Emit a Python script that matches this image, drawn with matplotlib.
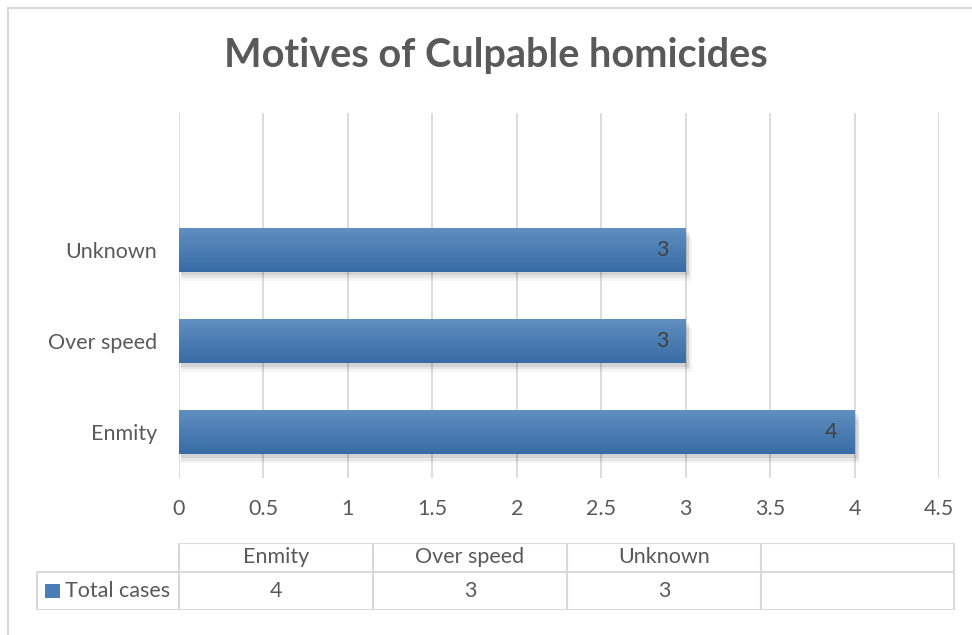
import matplotlib.pyplot as plt
import matplotlib.patches as mpatches
import numpy as np

# data
categories = ['Enmity', 'Over speed', 'Unknown']
total_cases = [4, 3, 3]
series_name = 'Total cases'
x_ticks = [0, 0.5, 1, 1.5, 2, 2.5, 3, 3.5, 4, 4.5]

W, H = 972, 635
TXT = '#595959'
GRID = '#d9d9d9'
FS = 15.5
plt.rcParams['font.family'] = ['Lato', 'DejaVu Sans']

fig = plt.figure(figsize=(W / 100, H / 100), dpi=100)

def px(x0, y0, x1, y1):
    return [x0 / W, 1 - y1 / H, (x1 - x0) / W, (y1 - y0) / H]

# outer chart border (only top and left edges are inside the picture)
fig.add_artist(plt.Line2D([8 / W, 8 / W], [0, 1 - 8 / H], color=GRID, lw=1.5))
fig.add_artist(plt.Line2D([8 / W, 1], [1 - 8 / H, 1 - 8 / H], color=GRID, lw=1.5))

fig.text(496 / W, 1 - 56 / H, 'Motives of Culpable homicides', ha='center', va='center',
         fontsize=28.5, fontweight='bold', color=TXT)

ax = fig.add_axes(px(179, 113, 939, 478))
ypos = np.arange(len(categories))
bh = 0.48
top_c = np.array([0x60, 0x8f, 0xc0]) / 255
bot_c = np.array([0x38, 0x6c, 0xa4]) / 255
grad = np.linspace(0, 1, 64)[:, None, None] * (bot_c - top_c) + top_c

for y, v in zip(ypos, total_cases):
    # soft drop shadow
    for k, a in [(0.10, 0.04), (0.07, 0.06), (0.04, 0.08)]:
        ax.add_patch(mpatches.Rectangle((0.01, y - bh / 2 - k), v + k * 0.25, bh, color='black',
                                        alpha=a, lw=0, zorder=2))
    ax.imshow(grad, extent=[0, v, y - bh / 2, y + bh / 2], aspect='auto', zorder=3,
              interpolation='bilinear')
    ax.text(v - 0.1, y, str(v), ha='right', va='center', fontsize=FS, color='#404040', zorder=4)

ax.set_xlim(0, 4.5)
ax.set_ylim(-0.5, len(categories) + 0.5)
ax.set_xticks(x_ticks)
ax.set_xticklabels([f'{t:g}' for t in x_ticks])
ax.set_yticks(ypos)
ax.set_yticklabels(categories)
ax.tick_params(length=0, labelsize=FS, labelcolor=TXT)
ax.tick_params(axis='y', pad=16)
ax.tick_params(axis='x', pad=15)
ax.xaxis.grid(True, color=GRID, lw=1.3, zorder=0)
ax.set_axisbelow(True)
for s in ax.spines.values():
    s.set_visible(False)

# data table
tab = fig.add_axes(px(0, 543, W, 610))
tab.set_xlim(0, W)
tab.set_ylim(610, 543)
tab.axis('off')
col_edges = [179, 373, 567, 761, 954]
tab.hlines(543, 179, 954, color=GRID, lw=1.5)
tab.hlines(572, 37, 954, color=GRID, lw=1.5)
tab.hlines(610, 37, 954, color=GRID, lw=1.5)
tab.vlines(col_edges, 543, 610, color=GRID, lw=1.5)
tab.vlines(37, 572, 610, color=GRID, lw=1.5)
labels = categories + ['']
values = [str(v) for v in total_cases] + ['']
for i, (lab, val) in enumerate(zip(labels, values)):
    cx = (col_edges[i] + col_edges[i + 1]) / 2
    tab.text(cx, 557, lab, ha='center', va='center', fontsize=FS, color=TXT)
    tab.text(cx, 591, val, ha='center', va='center', fontsize=FS, color=TXT)
tab.add_patch(mpatches.Rectangle((45, 584), 15, 14, color='#4a7db5', lw=0))
tab.text(65, 591, series_name, ha='left', va='center', fontsize=FS, color=TXT)

fig.savefig('out.png', dpi=100)
